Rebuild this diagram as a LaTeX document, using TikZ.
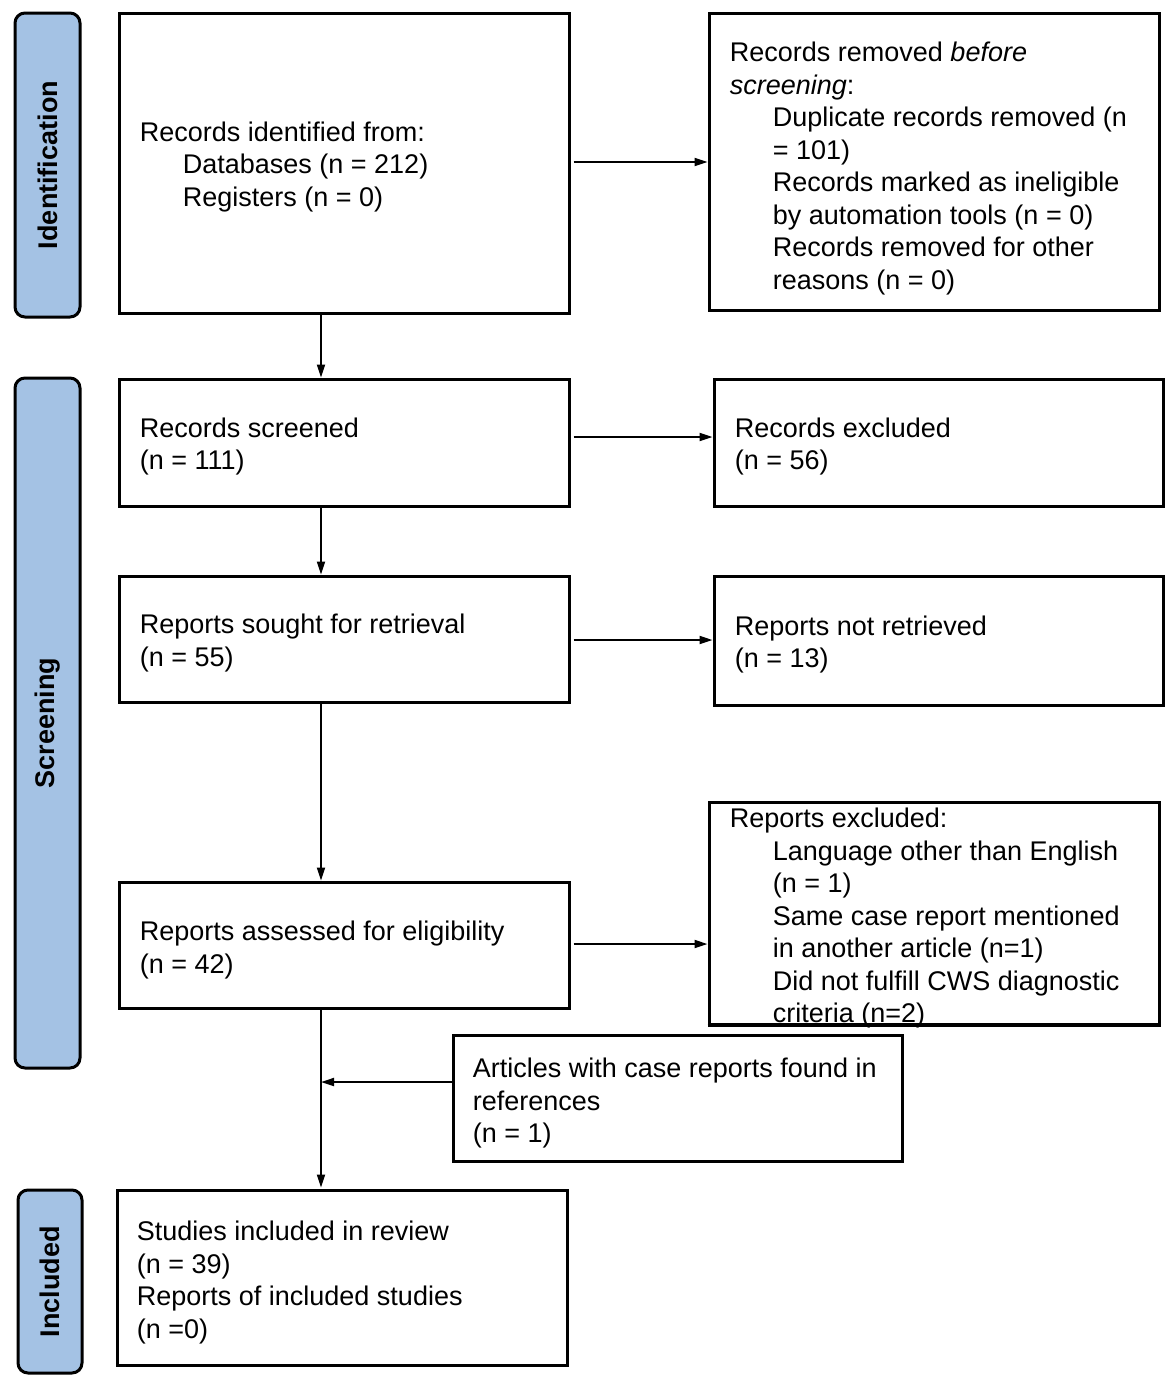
\documentclass[tikz,border=0pt]{standalone}
\usepackage{fontspec}
\setmainfont{Liberation Sans}
\usetikzlibrary{arrows.meta}
\definecolor{sideblue}{RGB}{164,194,228}
\begin{document}
\begin{tikzpicture}[x=0.5pt,y=-0.5pt,
  box/.style={draw, line width=1.5pt, inner sep=0pt},
  side/.style={draw, line width=1.5pt, fill=sideblue, rounded corners=5pt, inner sep=0pt,
    font=\bfseries\fontsize{13.5}{16}\selectfont},
  txt/.style={align=left, inner sep=0pt, font=\fontsize{13.5}{16.25}\selectfont},
  arr/.style={line width=0.9pt, -{Triangle[length=6.5pt,width=4pt]}}]
\useasboundingbox (0,0) rectangle (1170,1389);

% side phase labels
\node[side, minimum width=32.5pt, minimum height=152pt] (sid) at (47.5,165) {\rotatebox{90}{Identification}};
\node[side, minimum width=32.5pt, minimum height=345pt] (sscr) at (47.5,723) {\rotatebox{90}{Screening}};
\node[side, minimum width=32pt, minimum height=91.5pt] (sinc) at (50,1281.5) {\rotatebox{90}{Included}};

% boxes
\node[box, minimum width=225pt, minimum height=150pt] (b1) at (344,163) {};
\node[box, minimum width=225pt, minimum height=148.5pt] (rem) at (934,161.5) {};
\node[box, minimum width=225pt, minimum height=63.5pt] (scr) at (344,442.5) {};
\node[box, minimum width=224.5pt, minimum height=63.5pt] (exc) at (938.5,442.5) {};
\node[box, minimum width=225pt, minimum height=63pt] (sought) at (344,639) {};
\node[box, minimum width=224.5pt, minimum height=64.5pt] (notret) at (938.5,640.5) {};
\node[box, minimum width=225pt, minimum height=63pt] (assess) at (344,945) {};
\node[box, minimum width=225pt, minimum height=111pt] (repexc) at (934,913) {};
\node[box, minimum width=224.5pt, minimum height=63pt] (art) at (677.5,1098) {};
\node[box, minimum width=225pt, minimum height=87.5pt] (inc) at (342,1277.5) {};

% texts
\node[txt, anchor=west] (t1) at ([xshift=11pt,yshift=-2pt]b1.west) {Records identified from:\\\hspace*{21.5pt}Databases (n = 212)\\\hspace*{21.5pt}Registers (n = 0)};
\node[txt, anchor=west] (t2) at ([xshift=11pt,yshift=-3.5pt]rem.west) {Records removed \textit{before}\\\textit{screening}:\\\hspace*{21.5pt}Duplicate records removed (n\\\hspace*{21.5pt}= 101)\\\hspace*{21.5pt}Records marked as ineligible\\\hspace*{21.5pt}by automation tools (n = 0)\\\hspace*{21.5pt}Records removed for other\\\hspace*{21.5pt}reasons (n = 0)};
\node[txt, anchor=west] (t3) at ([xshift=11pt,yshift=-2pt]scr.west) {Records screened\\(n = 111)};
\node[txt, anchor=west] (t4) at ([xshift=11pt,yshift=-2pt]exc.west) {Records excluded\\(n = 56)};
\node[txt, anchor=west] (t5) at ([xshift=11pt,yshift=-2pt]sought.west) {Reports sought for retrieval\\(n = 55)};
\node[txt, anchor=west] (t6) at ([xshift=11pt,yshift=-2pt]notret.west) {Reports not retrieved\\(n = 13)};
\node[txt, anchor=west] (t7) at ([xshift=11pt,yshift=-2.5pt]assess.west) {Reports assessed for eligibility\\(n = 42)};
\node[txt, anchor=west] (t8) at ([xshift=11pt,yshift=-2.5pt]repexc.west) {Reports excluded:\\\hspace*{21.5pt}Language other than English\\\hspace*{21.5pt}(n = 1)\\\hspace*{21.5pt}Same case report mentioned\\\hspace*{21.5pt}in another article (n=1)\\\hspace*{21.5pt}Did not fulfill CWS diagnostic\\\hspace*{21.5pt}criteria (n=2)};
\node[txt, anchor=west] (t9) at ([xshift=10.5pt,yshift=-2.5pt]art.west) {Articles with case reports found in\\references\\(n = 1)};
\node[txt, anchor=west] (t10) at ([xshift=10.5pt,yshift=-2.5pt]inc.west) {Studies included in review\\(n = 39)\\Reports of included studies\\(n =0)};

% redraw the bottom edge of the exclusion box over its text
\draw[line width=1.5pt] (repexc.south west) -- (repexc.south east);

% connectors
\coordinate (vx) at (321,0);
\draw[arr] (b1.south -| vx) -- (scr.north -| vx);
\draw[arr] (scr.south -| vx) -- (sought.north -| vx);
\draw[arr] (sought.south -| vx) -- (assess.north -| vx);
\draw[arr] (assess.south -| vx) -- ([yshift=0.5pt]inc.north -| vx);
\coordinate (j) at ([yshift=8pt]art.west -| vx);
\draw[arr] ([yshift=8pt]art.west) -- (j);

\draw[arr, shorten <=1.5pt] ([yshift=0.5pt]b1.east) -- ([yshift=0.5pt]b1.east -| rem.west);
\draw[arr, shorten <=1.5pt] ([yshift=2.75pt]scr.east) -- ([yshift=2.75pt]scr.east -| exc.west);
\draw[arr, shorten <=1.5pt] ([yshift=-0.5pt]sought.east) -- ([yshift=-0.5pt]sought.east -| notret.west);
\draw[arr, shorten <=1.5pt] ([yshift=0.5pt]assess.east) -- ([yshift=0.5pt]assess.east -| repexc.west);
\end{tikzpicture}
\end{document}
